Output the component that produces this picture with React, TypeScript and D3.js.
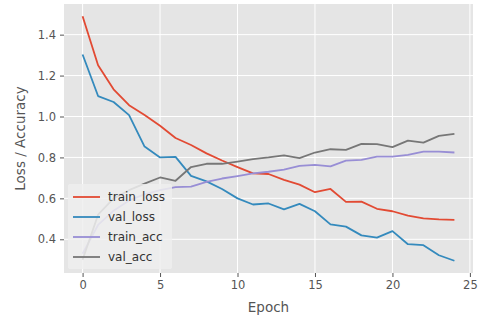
import { useEffect, useRef } from 'react';
import * as d3 from 'd3';

const epochs = d3.range(0, 25);
const trainLoss = [1.49, 1.25, 1.133, 1.055, 1.007, 0.955, 0.895, 0.861, 0.82, 0.785, 0.753, 0.722, 0.719, 0.69, 0.667, 0.63, 0.646, 0.583, 0.584, 0.549, 0.537, 0.516, 0.502, 0.497, 0.495];
const valLoss = [1.303, 1.1, 1.071, 1.007, 0.853, 0.8, 0.803, 0.71, 0.683, 0.646, 0.6, 0.57, 0.575, 0.546, 0.573, 0.537, 0.473, 0.462, 0.419, 0.408, 0.44, 0.376, 0.371, 0.322, 0.295];
const trainAcc = [0.33, 0.47, 0.54, 0.59, 0.62, 0.64, 0.655, 0.657, 0.681, 0.697, 0.709, 0.722, 0.73, 0.74, 0.759, 0.764, 0.756, 0.784, 0.788, 0.804, 0.804, 0.812, 0.828, 0.828, 0.824];
const valAcc = [0.3, 0.52, 0.6, 0.64, 0.672, 0.702, 0.686, 0.753, 0.769, 0.769, 0.78, 0.792, 0.8, 0.81, 0.797, 0.824, 0.84, 0.837, 0.866, 0.865, 0.85, 0.882, 0.872, 0.905, 0.915];

const seriesNames = ['train_loss', 'val_loss', 'train_acc', 'val_acc'];
const seriesColors = ['#E24A33', '#348ABD', '#988ED5', '#777777'];
const xTicks = [0, 5, 10, 15, 20, 25];
const yTicks = [0.4, 0.6, 0.8, 1.0, 1.2, 1.4];

export default function App() {
  const svgRef = useRef<SVGSVGElement>(null);

  useEffect(() => {
    const svg = d3.select(svgRef.current);
    svg.selectAll('*').remove();

    const width = 482;
    const height = 320;
    const margin = { top: 4, right: 9, bottom: 47, left: 64 };
    const innerWidth = width - margin.left - margin.right;
    const innerHeight = height - margin.top - margin.bottom;

    const all = [trainLoss, valLoss, trainAcc, valAcc];
    const yMin = d3.min(all, s => d3.min(s)) as number;
    const yMax = d3.max(all, s => d3.max(s)) as number;
    const yPad = (yMax - yMin) * 0.05;
    const xPad = (epochs.length - 1) * 0.05;

    const x = d3.scaleLinear().domain([-xPad, epochs.length - 1 + xPad]).range([0, innerWidth]);
    const y = d3.scaleLinear().domain([yMin - yPad, yMax + yPad]).range([innerHeight, 0]);

    svg.attr('width', width).attr('height', height);
    svg.append('rect').attr('width', width).attr('height', height).attr('fill', 'white');

    const g = svg.append('g').attr('transform', `translate(${margin.left},${margin.top})`);

    g.append('rect')
      .attr('width', innerWidth)
      .attr('height', innerHeight)
      .attr('fill', '#E5E5E5');

    // grid
    g.append('g')
      .selectAll('line')
      .data(xTicks)
      .join('line')
      .attr('x1', d => x(d)).attr('x2', d => x(d))
      .attr('y1', 0).attr('y2', innerHeight)
      .attr('stroke', 'white').attr('stroke-width', 1);

    g.append('g')
      .selectAll('line')
      .data(yTicks)
      .join('line')
      .attr('x1', 0).attr('x2', innerWidth)
      .attr('y1', d => y(d)).attr('y2', d => y(d))
      .attr('stroke', 'white').attr('stroke-width', 1);

    // axes
    const xAxis = g.append('g')
      .attr('transform', `translate(0,${innerHeight})`)
      .call(d3.axisBottom(x).tickValues(xTicks).tickFormat(d3.format('d')).tickSize(4).tickPadding(4));
    const yAxis = g.append('g')
      .call(d3.axisLeft(y).tickValues(yTicks).tickFormat(d3.format('.1f')).tickSize(4).tickPadding(4));

    [xAxis, yAxis].forEach(a => {
      a.select('.domain').remove();
      a.selectAll('line').attr('stroke', '#555555');
      a.selectAll('text')
        .attr('fill', '#555555')
        .style('font-family', 'DejaVu Sans')
        .style('font-size', '11.5px');
    });

    // lines
    const line = d3.line<number>()
      .x((_, i) => x(epochs[i]))
      .y(d => y(d));

    g.append('g')
      .selectAll('path')
      .data(all)
      .join('path')
      .attr('d', d => line(d))
      .attr('fill', 'none')
      .attr('stroke', (_, i) => seriesColors[i])
      .attr('stroke-width', 1.8)
      .attr('stroke-linejoin', 'round');

    // axis labels
    svg.append('text')
      .attr('x', margin.left + innerWidth / 2)
      .attr('y', 312)
      .attr('text-anchor', 'middle')
      .attr('fill', '#555555')
      .style('font-family', 'DejaVu Sans')
      .style('font-size', '13.5px')
      .text('Epoch');

    svg.append('text')
      .attr('transform', `translate(25,${margin.top + innerHeight / 2}) rotate(-90)`)
      .attr('text-anchor', 'middle')
      .attr('fill', '#555555')
      .style('font-family', 'DejaVu Sans')
      .style('font-size', '13.5px')
      .text('Loss / Accuracy');

    // legend
    const legend = svg.append('g').attr('transform', 'translate(68,184)');
    legend.append('rect')
      .attr('width', 104)
      .attr('height', 85)
      .attr('fill', '#EEEEEE')
      .attr('fill-opacity', 0.85)
      .attr('rx', 2);

    seriesNames.forEach((name, i) => {
      const row = legend.append('g').attr('transform', `translate(0,${13 + i * 20})`);
      row.append('line')
        .attr('x1', 5).attr('x2', 32)
        .attr('stroke', seriesColors[i])
        .attr('stroke-width', 1.8);
      row.append('text')
        .attr('x', 40)
        .attr('y', 4)
        .attr('fill', '#333333')
        .style('font-family', 'DejaVu Sans')
        .style('font-size', '12px')
        .text(name);
    });
  }, []);

  return (
    <svg ref={svgRef} style={{ position: 'absolute', left: 0, top: 0, display: 'block' }}></svg>
  );
}
